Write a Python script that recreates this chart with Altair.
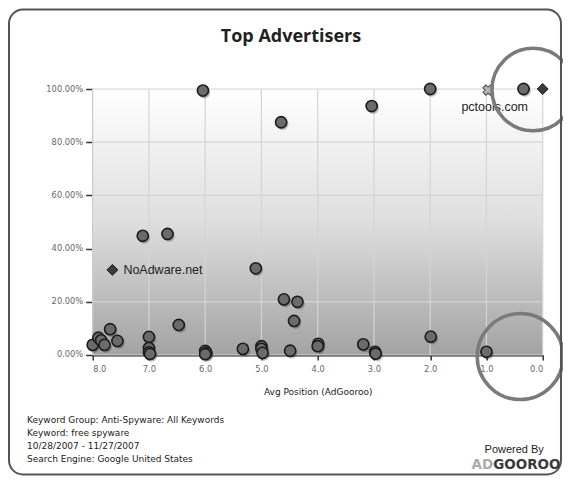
import altair as alt
import pandas as pd

# ---- data ----
pos = [8.0, 7.9, 7.85, 7.79, 7.69, 7.56,
       7.0, 7.0, 7.0, 6.98, 6.47,
       6.0, 5.98, 6.0, 5.33,
       5.0, 5.0, 4.98, 5.1,
       4.6, 4.36, 4.42, 4.49,
       3.99, 4.0, 3.19, 2.98, 2.97,
       1.99, 1.0,
       7.11, 6.67,
       6.04, 4.65, 3.04, 2.0, 0.34]
share = [3.8, 6.5, 5.5, 3.8, 9.7, 5.3,
         6.8, 2.6, 1.0, 0.4, 11.3,
         1.5, 0.8, 0.3, 2.3,
         3.3, 2.3, 0.8, 32.6,
         20.9, 20.0, 12.8, 1.6,
         4.2, 3.3, 4.0, 1.2, 0.5,
         6.9, 1.2,
         44.8, 45.5,
         99.4, 87.5, 93.6, 100.0, 100.0]

hl_names = ["NoAdware.net", "pctools.com"]
hl_pos = [7.65, 0.0]
hl_share = [32.0, 100.0]

x_mark_pos = [0.97]
x_mark_share = [99.6]

note_pos = [0.17, 0.40]
note_share = [99.8, -0.6]
note_radius = [46.5, 48.5]

x_ticks = [8, 7, 6, 5, 4, 3, 2, 1, 0]
y_ticks = [0, 0.2, 0.4, 0.6, 0.8, 1.0]

title_text = "Top Advertisers"
x_title = "Avg Position (AdGooroo)"
footer_lines = ["Keyword Group: Anti-Spyware: All Keywords",
                "Keyword: free spyware",
                "10/28/2007 - 11/27/2007",
                "Search Engine: Google United States"]

# ---- tables ----
pts = pd.DataFrame({"pos": pos, "share": [s / 100 for s in share]})
hl = pd.DataFrame({"pos": hl_pos, "share": [s / 100 for s in hl_share], "name": hl_names})
xm = pd.DataFrame({"pos": x_mark_pos, "share": [s / 100 for s in x_mark_share]})
notes = pd.DataFrame({"pos": note_pos, "share": [s / 100 for s in note_share],
                      "size": [3.14159 * r * r for r in note_radius]})
xt = pd.DataFrame({"pos": x_ticks})
yt = pd.DataFrame({"share": y_ticks})
one = pd.DataFrame({"k": [0]})

W, H = 450, 266

xs = alt.Scale(domain=[0, 8], reverse=True, nice=False, zero=False)
ys = alt.Scale(domain=[0, 1], nice=False)
xa = alt.Axis(values=x_ticks, format=".1f", title=x_title, grid=False)
ya = alt.Axis(values=y_ticks, format=".2%", title=None, grid=False)

X = alt.X("pos:Q", scale=xs, axis=xa)
Y = alt.Y("share:Q", scale=ys, axis=ya)

bg = alt.Chart(one).mark_rect(
    fill=alt.LinearGradient(
        gradient="linear", x1=0, x2=0, y1=0, y2=1,
        stops=[alt.GradientStop(color="#ffffff", offset=0),
               alt.GradientStop(color="#dedede", offset=0.5),
               alt.GradientStop(color="#a3a3a3", offset=1)])
).encode(x=alt.value(0), x2=alt.value(W), y=alt.value(0), y2=alt.value(H))

vgrid = alt.Chart(xt).mark_rule(color="#d4d4d4", strokeWidth=1.2).encode(
    x=X, y=alt.value(0), y2=alt.value(H))
hgrid = alt.Chart(yt).mark_rule(color="#d4d4d4", strokeWidth=1.2).encode(
    y=Y, x=alt.value(0), x2=alt.value(W))

shadow = alt.Chart(pts).mark_point(
    shape="circle", filled=True, color="#000000", opacity=0.25, size=135,
    xOffset=1.5, yOffset=2
).encode(x=X, y=Y)

dots = alt.Chart(pts).mark_point(
    shape="circle", filled=True, fill="#6b6b6b", stroke="#1c1c1c",
    strokeWidth=1.6, size=125, opacity=1
).encode(x=X, y=Y)

diamonds = alt.Chart(hl).mark_point(
    shape="diamond", filled=True, fill="#3c3c3c", stroke="#1a1a1a",
    strokeWidth=1, size=120, opacity=1
).encode(x=X, y=Y)

noad_label = alt.Chart(hl).transform_filter(alt.datum.name == "NoAdware.net").mark_text(
    align="left", baseline="middle", dx=11, font="Liberation Sans",
    fontSize=12.5, color="#1e1e1e"
).encode(x=X, y=Y, text="name:N")

pct_label = alt.Chart(hl).transform_filter(alt.datum.name == "pctools.com").mark_text(
    align="center", baseline="middle", dx=-48, dy=18, font="Liberation Sans",
    fontSize=12.5, color="#1e1e1e"
).encode(x=X, y=Y, text="name:N")

xmark = alt.Chart(xm).mark_point(
    shape="cross", angle=45, filled=True, fill="#b5b5b5", stroke="#4a4a4a",
    strokeWidth=1, size=110, opacity=1
).encode(x=X, y=Y)

circles = alt.Chart(notes).mark_point(
    shape="circle", filled=False, stroke="#7a7a7a", strokeWidth=3.5, opacity=1
).encode(x=X, y=Y, size=alt.Size("size:Q", scale=None, legend=None))

frame = alt.Chart(one).mark_rect(
    fill="transparent", stroke="#555555", strokeWidth=2, cornerRadius=14
).encode(x=alt.value(-83.7), x2=alt.value(468.3), y=alt.value(-79.5), y2=alt.value(385.5))

title = alt.Chart(one).mark_text(
    text=title_text, font="Open Sans", fontWeight="bold", fontSize=18,
    color="#222222", align="center", baseline="middle"
).encode(x=alt.value(198.3), y=alt.value(-52))

footer = alt.Chart(one).mark_text(
    text=footer_lines, font="DejaVu Sans", fontSize=9, lineHeight=13,
    color="#222222", align="left", baseline="top"
).encode(x=alt.value(-65.7), y=alt.value(327))

powered = alt.Chart(one).mark_text(
    text="Powered By", font="Liberation Sans", fontSize=11, color="#222222",
    align="center", baseline="middle"
).encode(x=alt.value(421.5), y=alt.value(361))

logo_ad = alt.Chart(one).mark_text(
    text="AD", font="DejaVu Sans", fontWeight="bold", fontSize=13.5,
    color="#ababab", align="right", baseline="middle"
).encode(x=alt.value(400.5), y=alt.value(376))

logo_g = alt.Chart(one).mark_text(
    text="GOOROO", font="DejaVu Sans", fontWeight="bold", fontSize=13.5,
    color="#3a3a3a", align="left", baseline="middle"
).encode(x=alt.value(400.5), y=alt.value(376))

chart = alt.layer(
    bg, vgrid, hgrid, shadow, dots, diamonds, xmark, noad_label, pct_label, circles,
    frame, title, footer, powered, logo_ad, logo_g
).properties(
    width=W, height=H,
    autosize=alt.AutoSizeParams(type="none"),
    padding={"left": 84.7, "top": 81, "right": 20, "bottom": 121},
    background="#ffffff"
).configure_view(
    strokeOpacity=0
).configure_axis(
    labelFont="DejaVu Sans", labelFontSize=8.3, labelColor="#666666",
    domainColor="#222222", domainWidth=2, tickColor="#333333", tickWidth=1.5,
    titleFont="DejaVu Sans", titleFontSize=9, titleFontWeight="normal", titleColor="#222222"
).configure_axisX(
    tickSize=5, labelPadding=5, titlePadding=14
).configure_axisY(
    tickSize=7, labelPadding=3
)

chart.save("out.html", embed_options={"renderer": "svg", "actions": False})
